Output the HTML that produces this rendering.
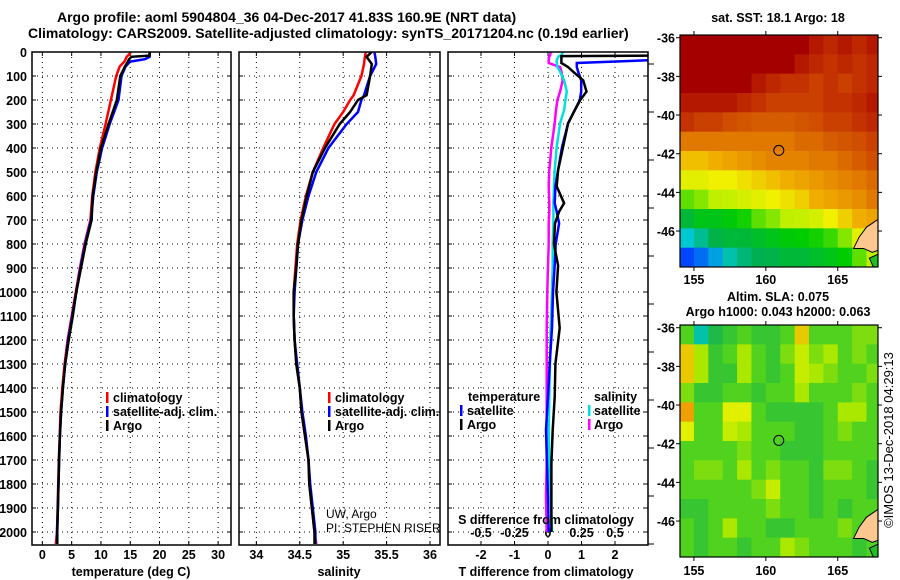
<!DOCTYPE html>
<html><head><meta charset="utf-8">
<style>
html,body{margin:0;padding:0;background:#fff;}
svg{display:block;font-family:"Liberation Sans",Arial,sans-serif;}
.b{font-weight:bold;font-size:12.5px;}
.n{font-weight:normal;font-size:12px;}
.t{font-weight:bold;font-size:14px;}
</style></head>
<body>
<svg id="fig" width="900" height="580" viewBox="0 0 900 580" xmlns="http://www.w3.org/2000/svg">
<g id="titles">
<text class="t" x="57" y="22">Argo profile: aoml 5904804_36 04-Dec-2017 41.83S 160.9E (NRT data)</text>
<text class="t" x="28" y="38">Climatology: CARS2009. Satellite-adjusted climatology: synTS_20171204.nc (0.19d earlier)</text>
<text class="b" x="778" y="22" text-anchor="middle">sat. SST: 18.1 Argo: 18</text>
<text class="b" x="778" y="301" text-anchor="middle">Altim. SLA: 0.075</text>
<text class="b" x="778" y="316" text-anchor="middle">Argo h1000: 0.043 h2000: 0.063</text>
<text x="893" y="440" font-size="13" text-anchor="middle" transform="rotate(-90 893 440)">©IMOS 13-Dec-2018 04:29:13</text>
</g>
</svg>
<script>
// ---------- data ----------
const depthT = [0,10,15,20,30,40,60,100,200,300,400,500,600,700,800,900,1000,1100,1200,1300,1400,1500,1600,1700,1800,1900,2000,2050];
const tempClim = [15.1,14.8,14.6,14.4,14.2,14.0,13.2,12.6,11.7,10.8,9.8,9.05,8.5,8.2,7.2,6.4,5.7,5.0,4.3,3.8,3.4,3.1,2.95,2.8,2.7,2.6,2.5,2.3];
const tempSat  = [18.3,18.3,18.3,18.3,17.5,15.0,14.2,13.5,13.0,11.5,10.2,9.3,8.7,8.3,7.3,6.5,5.8,5.1,4.4,3.9,3.5,3.2,3.0,2.85,2.75,2.65,2.5,2.5];
const tempArgo = [18.3,18.3,18.3,15.2,14.8,14.6,14.1,13.3,12.7,11.3,10.0,9.2,8.6,8.4,7.4,6.6,5.8,5.2,4.5,3.9,3.5,3.2,3.0,2.85,2.75,2.65,2.55,2.55];
const depthS = [0,20,50,100,180,200,250,300,400,500,600,700,800,900,1000,1100,1200,1300,1400,1500,1600,1700,1800,1900,2000,2050];
const salClim = [35.26,35.25,35.24,35.21,35.12,35.08,35.0,34.9,34.77,34.65,34.57,34.51,34.47,34.45,34.43,34.43,34.44,34.46,34.5,34.52,34.56,34.6,34.61,34.64,34.67,34.69];
const salSat  = [35.36,35.37,35.38,35.31,35.24,35.21,35.17,35.04,34.83,34.69,34.6,34.53,34.48,34.46,34.44,34.43,34.44,34.47,34.5,34.53,34.57,34.6,34.62,34.65,34.68,34.68];
const salArgo = [35.33,35.27,35.33,35.31,35.27,35.17,35.08,34.96,34.79,34.65,34.58,34.52,34.48,34.46,34.43,34.43,34.44,34.46,34.5,34.52,34.56,34.6,34.61,34.64,34.67,34.67];
const depthD = [0,15,17,33,46,63,82,118,165,200,242,297,395,492,560,630,665,714,800,890,1000,1150,1300,1437,1575,1715,1850,2000];
const dTArgo = [3.3,3.3,0.4,0.4,0.4,0.6,0.75,1.05,1.15,0.96,0.8,0.6,0.45,0.3,0.26,0.48,0.33,0.21,0.18,0.3,0.25,0.35,0.22,0.2,0.14,0.1,0.1,0.1];
const dTSat  = [3.3,3.3,3.3,3.3,0.86,0.86,0.9,0.99,0.99,0.95,0.8,0.6,0.42,0.3,0.22,0.2,0.26,0.33,0.23,0.2,0.15,0.12,0.05,0.0,-0.06,-0.03,0.0,0.02];
const dSSat  = [0.11,0.1,0.08,0.065,0.065,0.07,0.09,0.12,0.14,0.13,0.12,0.09,0.065,0.05,0.045,0.04,0.04,0.04,0.035,0.035,0.03,0.02,0.015,0.01,0.005,0.01,0.02,0.03];
const dSArgo = [0.02,0.015,0.01,0.005,0.005,0.09,0.1,0.11,0.09,0.07,0.06,0.05,0.025,0.01,0.005,0.01,0.01,0.005,0.005,0.0,-0.005,-0.01,-0.01,-0.01,-0.01,-0.01,-0.015,-0.01];
const depthTicks = [0,100,200,300,400,500,600,700,800,900,1000,1100,1200,1300,1400,1500,1600,1700,1800,1900,2000];
const tempTicks = [0,5,10,15,20,25,30];
const salTicks = [34,34.5,35,35.5,36];
const salTickLabels = ["34","34.5","35","35.5","36"];
const dTTicks = [-2,-1,0,1,2];
const dSTicks = [-0.5,-0.25,0,0.25,0.5];
const dSTickLabels = ["-0.5","-0.25","0","0.25","0.5"];
const latTicks = [-36,-38,-40,-42,-44,-46];
const lonTicks = [155,160,165];
const sstGrid = [
[1,1,1,1,1,1,1,1,1,.95,.92,.95,.92,.95],
[1,1,1,1,1,1,1,1,.95,.92,.9,.92,.9,.92],
[1,1,1,1,1,.95,.92,.9,.9,.88,.9,.88,.9,.92],
[.95,.95,.95,.95,.92,.9,.88,.88,.88,.88,.9,.9,.92,.95],
[.9,.88,.88,.86,.85,.84,.84,.84,.85,.86,.88,.88,.9,.92],
[.8,.8,.8,.8,.8,.8,.8,.8,.82,.82,.84,.85,.86,.88],
[.68,.68,.7,.72,.74,.76,.78,.78,.78,.8,.8,.82,.84,.86],
[.6,.6,.62,.62,.64,.66,.68,.7,.72,.74,.76,.78,.8,.82],
[.5,.52,.55,.56,.58,.6,.62,.64,.66,.7,.72,.74,.76,.8],
[.38,.42,.42,.44,.46,.5,.52,.55,.56,.58,.62,.66,.7,.72],
[.25,.3,.36,.38,.38,.4,.42,.44,.45,.46,.48,.52,.6,.65],
[.15,.18,.22,.28,.32,.35,.36,.38,.38,.4,.42,.45,.5,.55]];
const slaGrid = [
[.5,.3,.4,.45,.5,.45,.45,.5,.75,.5,.5,.5,.55,.55],
[.75,.6,.45,.5,.6,.5,.45,.55,.65,.55,.6,.5,.55,.5],
[.75,.6,.45,.45,.6,.5,.45,.5,.65,.6,.55,.5,.5,.55],
[.55,.45,.45,.5,.5,.45,.5,.5,.6,.5,.5,.5,.55,.5],
[.8,.5,.5,.7,.7,.5,.45,.45,.45,.45,.5,.6,.6,.5],
[.7,.5,.5,.65,.6,.5,.5,.5,.45,.45,.5,.55,.5,.5],
[.5,.5,.5,.5,.55,.5,.5,.45,.45,.45,.5,.5,.5,.5],
[.5,.55,.55,.5,.6,.5,.55,.5,.5,.45,.55,.55,.5,.45],
[.5,.5,.5,.5,.5,.55,.65,.5,.5,.45,.5,.5,.5,.45],
[.45,.45,.5,.5,.5,.5,.55,.5,.5,.45,.5,.45,.5,.5],
[.5,.45,.5,.6,.5,.5,.45,.45,.5,.5,.5,.55,.5,.5],
[.5,.45,.5,.5,.45,.5,.5,.6,.55,.5,.5,.5,.45,.5]];
const argoLon = 160.9, argoLat = -41.83;

// ---------- helpers ----------
const NS="http://www.w3.org/2000/svg";
const svg=document.getElementById('fig');
function mk(tag,attrs,parent){const e=document.createElementNS(NS,tag);for(const k in attrs)e.setAttribute(k,attrs[k]);(parent||svg).appendChild(e);return e;}
const TOP=52, BOT=545;
const yD = d => TOP + d*0.24;
function panel(name,x0,x1,xmin,xmax){
  const g=mk('g',{});
  
  
  return {g,x0,x1,sx:v=>x0+(v-xmin)/(xmax-xmin)*(x1-x0)};
}
function frame(p){
  const r=mk('rect',{x:p.x0,y:TOP,width:p.x1-p.x0,height:BOT-TOP,fill:'none',stroke:'#000','stroke-width':1.5},p.g);
  
  
}
function ygrid(p){
  depthTicks.forEach(d=>{
    const y=yD(d);
    const l=mk('line',{x1:p.x0,x2:p.x1,y1:y,y2:y,stroke:'#000','stroke-dasharray':'1 4','stroke-width':1},p.g);
    
    
    mk('line',{x1:p.x0,x2:p.x0+4,y1:y,y2:y,stroke:'#000'},p.g);
    mk('line',{x1:p.x1,x2:p.x1-4,y1:y,y2:y,stroke:'#000'},p.g);
  });
}
function xgrid(p,ticks,labels,ly){
  ticks.forEach((v,i)=>{
    const x=p.sx(v);
    const l=mk('line',{x1:x,x2:x,y1:TOP,y2:BOT,stroke:'#000','stroke-dasharray':'1 4','stroke-width':1},p.g);
    
    
    mk('line',{x1:x,x2:x,y1:BOT,y2:BOT-4,stroke:'#000'},p.g);
    mk('line',{x1:x,x2:x,y1:TOP,y2:TOP+4,stroke:'#000'},p.g);
    if(labels){
      const t=mk('text',{x:x,y:ly,'text-anchor':'middle',class:'b'},p.g);
      t.textContent=labels[i];
      
      
    }
  });
}
function line(p,xs,ds,color,name,w){
  const pts=xs.map((v,i)=>p.sx(v).toFixed(1)+','+yD(ds[i]).toFixed(1)).join(' ');
  const l=mk('polyline',{points:pts,fill:'none',stroke:color,'stroke-width':w||2.5,'clip-path':'url(#clipP'+p.id+')'},p.g);
  
  
}
function clip(p,id){
  p.id=id;
  const c=mk('clipPath',{id:'clipP'+id},p.g);
  mk('rect',{x:p.x0,y:TOP,width:p.x1-p.x0,height:BOT-TOP},c);
}
function txt(p,x,y,s,name,cls,extra){
  const t=mk('text',Object.assign({x:x,y:y,class:cls||'b'},extra||{}),p.g);
  t.textContent=s;
  
  
  return t;
}
function legendMark(p,x,y,color){
  const r=mk('rect',{x:x,y:y-10,width:2.5,height:11,fill:color},p.g);
  
  
}

// ---------- temperature panel ----------
const pT=panel('temperature-panel',32,231,-1.77,32.2);
clip(pT,1);ygrid(pT);xgrid(pT,tempTicks,tempTicks.map(String),559);
depthTicks.forEach(d=>{
  const t=mk('text',{x:27,y:yD(d)+5,'text-anchor':'end',class:'b'},pT.g);
  t.textContent=String(d);
  
  
});
line(pT,tempClim,depthT,'#ff0000','temp-climatology-line');
line(pT,tempSat,depthT,'#0000ff','temp-satellite-line');
line(pT,tempArgo,depthT,'#000000','temp-argo-line');
frame(pT);
legendMark(pT,106,402,'#ff0000');txt(pT,113,402,'climatology','legend-climatology');
legendMark(pT,106,416,'#0000ff');txt(pT,113,416,'satellite-adj. clim.','legend-satellite');
legendMark(pT,106,430,'#000000');txt(pT,113,430,'Argo','legend-argo');
txt(pT,131,576,'temperature (deg C)','x-axis-title-temperature','b',{'text-anchor':'middle'});

// ---------- salinity panel ----------
const pS=panel('salinity-panel',239,440,33.8,36.115);
clip(pS,2);ygrid(pS);xgrid(pS,salTicks,salTickLabels,559);
line(pS,salClim,depthS,'#ff0000','sal-climatology-line');
line(pS,salSat,depthS,'#0000ff','sal-satellite-line');
line(pS,salArgo,depthS,'#000000','sal-argo-line');
frame(pS);
legendMark(pS,328,402,'#ff0000');txt(pS,335,402,'climatology','legend-climatology');
legendMark(pS,328,416,'#0000ff');txt(pS,335,416,'satellite-adj. clim.','legend-satellite');
legendMark(pS,328,430,'#000000');txt(pS,335,430,'Argo','legend-argo');
txt(pS,326,518,'UW, Argo','pi-institution','n');
txt(pS,326,532,'PI: STEPHEN RISER','pi-name','n');
txt(pS,339,576,'salinity','x-axis-title-salinity','b',{'text-anchor':'middle'});

// ---------- difference panel ----------
const pD=panel('difference-panel',448,648,-2.985,2.985);
clip(pD,3);ygrid(pD);xgrid(pD,dTTicks,dTTicks.map(String),559);
const pDs={g:pD.g,x0:448,x1:648,id:3,sx:v=>pD.sx(v*4)};
dSTicks.forEach((v,i)=>{
  const t=mk('text',{x:pDs.sx(v),y:537,'text-anchor':'middle',class:'b'},pD.g);
  t.textContent=dSTickLabels[i];
  
  
});
line(pDs,dSArgo,depthD,'#ff00ff','sal-diff-argo-line');
line(pDs,dSSat,depthD,'#00e0e0','sal-diff-satellite-line');
line(pD,dTSat,depthD,'#0000ff','temp-diff-satellite-line');
line(pD,dTArgo,depthD,'#000000','temp-diff-argo-line');
frame(pD);
depthTicks.forEach(d=>{if(d%200==0){mk('line',{x1:648,x2:654,y1:yD(d)+12,y2:yD(d)+12,stroke:'#000'},pD.g);}});
txt(pD,468,401,'temperature','legend-temperature-header');
legendMark(pD,460,415,'#0000ff');txt(pD,467,415,'satellite','legend-temp-satellite');
legendMark(pD,460,429,'#000000');txt(pD,467,429,'Argo','legend-temp-argo');
txt(pD,594,401,'salinity','legend-salinity-header');
legendMark(pD,588,415,'#00e0e0');txt(pD,594,415,'satellite','legend-sal-satellite');
legendMark(pD,588,429,'#ff00ff');txt(pD,594,429,'Argo','legend-sal-argo');
txt(pD,546,524,'S difference from climatology','s-diff-axis-title','b',{'text-anchor':'middle'});
txt(pD,546,576,'T difference from climatology','x-axis-title-tdiff','b',{'text-anchor':'middle'});

// ---------- maps ----------
const LON0=154.03, LON1=167.8, LAT0=-35.86, LAT1=-47.86;
function cmapSST(v){
  const stops=[[0,[0,0,140]],[.15,[0,70,255]],[.25,[0,200,210]],[.35,[0,175,80]],[.45,[0,205,0]],[.55,[190,240,0]],[.62,[240,240,0]],[.7,[240,175,0]],[.8,[225,120,0]],[.9,[195,50,0]],[1,[165,0,0]]];
  return interpC(stops,v);
}
function cmapSLA(v){
  const stops=[[.3,[0,195,170]],[.4,[30,185,70]],[.5,[80,210,30]],[.6,[170,232,0]],[.7,[225,240,0]],[.8,[240,160,0]]];
  return interpC(stops,v);
}
function interpC(stops,v){
  if(v<=stops[0][0])return 'rgb('+stops[0][1]+')';
  for(let i=1;i<stops.length;i++){if(v<=stops[i][0]){const a=stops[i-1],b=stops[i],f=(v-a[0])/(b[0]-a[0]);return 'rgb('+a[1].map((c,k)=>Math.round(c+(b[1][k]-c)*f))+')';}}
  return 'rgb('+stops[stops.length-1][1]+')';
}
function map(name,y0,y1,grid,cmap,lonLabelY){
  const x0=680,x1=878;
  const g=mk('g',{});
  
  
  const sx=lon=>x0+(lon-LON0)/(LON1-LON0)*(x1-x0);
  const sy=lat=>y0+(LAT0-lat)/(LAT0-LAT1)*(y1-y0);
  const cid='clipM'+name;
  const c=mk('clipPath',{id:cid},g);mk('rect',{x:x0,y:y0,width:x1-x0,height:y1-y0},c);
  const cg=mk('g',{'clip-path':'url(#'+cid+')'},g);
  const rows=grid.length, cols=grid[0].length;
  for(let r=0;r<rows;r++)for(let k=0;k<cols;k++){
    const la=LAT0-r, lo=154+k;
    const cell=mk('rect',{x:sx(lo),y:sy(la),width:sx(lo+1)-sx(lo)+0.6,height:sy(la-1)-sy(la)+0.6,fill:cmap(grid[r][k])},cg);
    
    
  }
  const land=mk('polygon',{points:[[167.8,-45.4],[167.0,-45.8],[166.5,-46.3],[166.1,-46.9],[166.8,-46.9],[167.4,-47.1],[167.8,-47.0]].map(p=>sx(p[0])+','+sy(p[1])).join(' '),fill:'#fcc890',stroke:'#000','stroke-width':1},cg);
  
  
  const st=mk('polygon',{points:[[167.8,-47.2],[167.2,-47.4],[167.5,-47.9],[167.8,-47.9]].map(p=>sx(p[0])+','+sy(p[1])).join(' '),fill:'#20c020',stroke:'#000','stroke-width':1},cg);
  
  
  const ci=mk('circle',{cx:sx(argoLon),cy:sy(argoLat),r:5,fill:'none',stroke:'#000','stroke-width':1},g);
  
  
  const fr=mk('rect',{x:x0,y:y0,width:x1-x0,height:y1-y0,fill:'none',stroke:'#000','stroke-width':1.2},g);
  
  
  latTicks.forEach(la=>{
    const y=sy(la);
    mk('line',{x1:x0-4,x2:x0,y1:y,y2:y,stroke:'#000'},g);
    mk('line',{x1:x1,x2:x1+4,y1:y,y2:y,stroke:'#000'},g);
    const t=mk('text',{x:x0-5,y:y+5,'text-anchor':'end',class:'b'},g);
    t.textContent=String(la);
    
    
  });
  lonTicks.forEach(lo=>{
    const x=sx(lo);
    mk('line',{x1:x,x2:x,y1:y1,y2:y1+4,stroke:'#000'},g);
    mk('line',{x1:x,x2:x,y1:y0,y2:y0-4,stroke:'#000'},g);
    const t=mk('text',{x:x,y:lonLabelY,'text-anchor':'middle',class:'b'},g);
    t.textContent=String(lo);
    
    
  });
}
map('sst-map',35,267,sstGrid,cmapSST,284);
map('sla-map',325,557,slaGrid,cmapSLA,575);
</script>
</body></html>
